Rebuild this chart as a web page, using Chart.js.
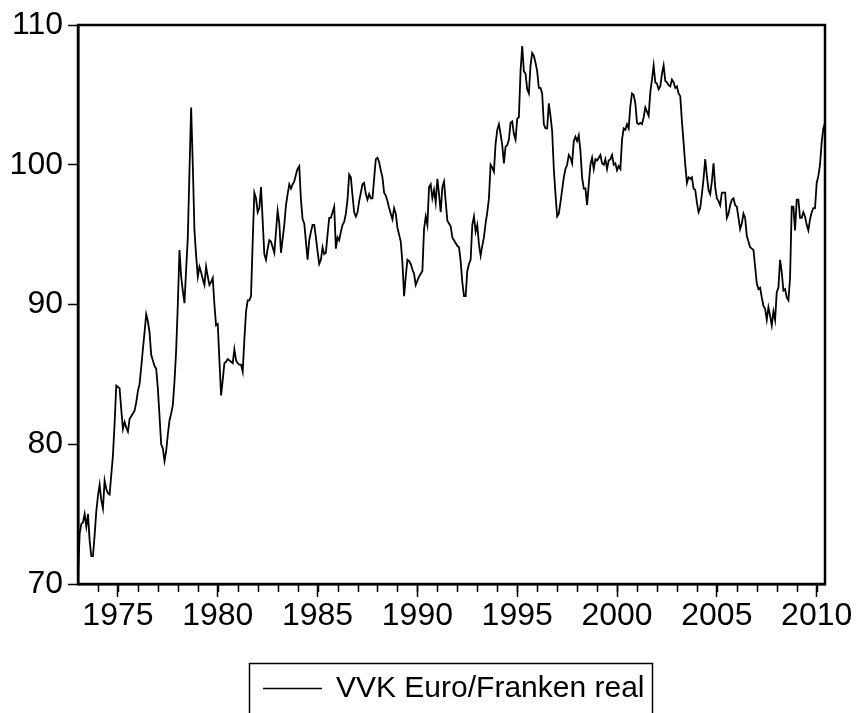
<!DOCTYPE html>
<html>
<head>
<meta charset="utf-8">
<script src="https://cdn.jsdelivr.net/npm/chart.js@4.4.1/dist/chart.umd.min.js"></script>
<style>
    html, body { margin: 0; padding: 0; background: #fff; overflow: hidden; }
    #wrap { width: 858px; height: 713px; position: relative; }
</style>
</head>
<body>
<div id="wrap"><canvas id="rate-chart" width="858" height="713"></canvas></div>
<script>
// monthly values, 1973M01 - 2010M06
const start_year = 1973;
const series_label = "VVK Euro/Franken real";
const real_rate = [
    70.6, 73.6, 74.3, 74.4, 75.0, 74.1, 75.0, 73.1, 72.0, 72.0, 73.5, 75.2,   // 1973
    76.3, 77.1, 76.0, 75.4, 77.4, 76.8, 76.5, 76.4, 77.8, 79.2, 81.5, 84.2,   // 1974
    84.1, 84.0, 82.5, 81.1, 81.6, 81.2, 80.9, 81.8, 82.0, 82.2, 82.4, 83.0,   // 1975
    83.8, 84.3, 85.5, 86.8, 88.0, 89.3, 88.8, 88.0, 86.4, 86.0, 85.6, 85.4,   // 1976
    84.0, 82.0, 80.0, 79.7, 78.8, 79.5, 80.7, 81.7, 82.2, 82.8, 84.5, 86.7,   // 1977
    90.0, 93.9, 92.0, 91.0, 90.1, 92.5, 94.8, 99.5, 104.1, 100.0, 95.3, 93.5, // 1978
    92.0, 92.7, 92.3, 91.8, 91.4, 92.7, 92.0, 91.4, 91.6, 91.9, 90.0, 88.5,   // 1979
    88.6, 86.0, 83.5, 84.6, 85.8, 85.9, 86.1, 86.0, 85.9, 85.8, 86.8, 86.0,   // 1980
    85.8, 85.7, 85.7, 85.2, 87.5, 89.5, 90.3, 90.3, 90.6, 94.5, 98.0, 97.6,   // 1981
    96.6, 96.9, 98.4, 96.0, 93.6, 93.2, 94.0, 94.6, 94.5, 94.1, 93.7, 95.2,   // 1982
    96.7, 95.8, 93.7, 94.7, 95.7, 97.1, 97.9, 98.6, 98.3, 98.6, 98.8, 99.3,   // 1983
    99.7, 99.9, 97.5, 96.1, 95.8, 94.5, 93.2, 94.6, 95.2, 95.7, 95.7, 94.8,   // 1984
    93.8, 92.9, 93.2, 94.1, 93.6, 93.7, 95.0, 96.2, 96.2, 96.6, 97.0, 94.0,   // 1985
    94.8, 94.6, 95.2, 95.7, 95.9, 96.5, 97.5, 99.3, 99.1, 97.8, 96.6, 96.3,   // 1986
    96.6, 97.4, 98.0, 98.6, 98.7, 97.9, 97.5, 97.9, 97.6, 97.6, 99.0, 100.4,  // 1987
    100.5, 100.2, 99.6, 99.1, 98.0, 97.8, 97.4, 96.9, 96.5, 96.1, 96.9, 96.5, // 1988
    95.5, 95.0, 94.5, 93.0, 90.6, 92.0, 93.2, 93.1, 92.9, 92.5, 92.2, 91.4,   // 1989
    91.7, 92.0, 92.2, 92.4, 95.4, 96.3, 95.7, 98.4, 98.6, 97.6, 98.2, 97.3,   // 1990
    99.0, 97.9, 96.6, 98.4, 98.8, 97.4, 96.0, 95.8, 95.6, 94.8, 94.6, 94.4,   // 1991
    94.2, 94.1, 93.1, 91.6, 90.6, 90.6, 92.4, 92.9, 93.2, 95.7, 96.3, 95.2,   // 1992
    95.7, 94.3, 93.5, 94.2, 94.8, 95.8, 96.6, 97.6, 100.0, 99.8, 99.5, 101.5, // 1993
    102.5, 102.9, 102.2, 101.4, 100.1, 101.3, 101.4, 101.8, 103.0, 103.1, 102.2, 101.8, // 1994
    103.3, 103.4, 106.7, 108.5, 106.7, 106.5, 105.4, 105.1, 107.1, 108.0, 107.8, 107.3, // 1995
    106.7, 105.5, 105.5, 105.1, 102.9, 102.6, 102.6, 104.4, 103.5, 102.4, 99.7, 97.9,   // 1996
    96.3, 96.5, 97.3, 98.2, 99.1, 99.7, 100.0, 100.7, 100.5, 100.1, 101.7, 102.0,       // 1997
    101.7, 102.1, 101.0, 99.1, 98.3, 98.3, 97.1, 98.6, 100.0, 100.5, 99.7, 100.4,       // 1998
    100.3, 100.5, 100.7, 100.1, 100.0, 100.4, 99.7, 100.3, 100.4, 100.7, 100.0, 100.1,  // 1999
    99.6, 99.9, 99.7, 101.8, 102.6, 102.5, 102.9, 102.6, 104.2, 105.1, 105.0, 104.4,    // 2000
    103.0, 102.9, 103.0, 102.9, 103.4, 104.1, 103.8, 103.5, 105.2, 106.1, 107.1, 105.9, // 2001
    105.8, 105.4, 105.6, 106.5, 107.1, 106.0, 105.9, 105.7, 105.6, 106.1, 105.9, 105.5, // 2002
    105.6, 105.1, 104.9, 103.1, 101.6, 100.0, 98.7, 99.1, 99.0, 99.1, 98.3, 98.2,       // 2003
    97.3, 96.6, 96.9, 97.9, 99.0, 100.4, 99.2, 98.2, 97.9, 98.8, 100.1, 98.4,   // 2004
    97.6, 97.4, 97.1, 98.0, 98.0, 98.0, 96.2, 96.5, 97.1, 97.5, 97.6, 97.1,     // 2005
    97.0, 96.2, 95.4, 95.8, 96.5, 96.2, 94.9, 94.5, 94.1, 94.0, 93.9, 92.7,     // 2006
    91.5, 91.1, 91.2, 90.5, 89.9, 89.7, 88.9, 89.8, 89.2, 88.5, 89.5, 88.9,     // 2007
    90.9, 91.2, 93.2, 92.3, 91.0, 91.1, 90.5, 90.3, 91.9, 97.0, 97.0, 95.3,     // 2008
    97.5, 97.5, 96.2, 96.2, 96.6, 96.3, 95.7, 95.3, 96.1, 96.6, 96.9, 96.9,     // 2009
    98.7, 99.2, 100.0, 101.6, 102.6, 103.0                                      // 2010
];
const year_ticks = [1975, 1980, 1985, 1990, 1995, 2000, 2005, 2010];
const minor_years = [1974, 1975, 1976, 1977, 1978, 1979, 1980, 1981, 1982, 1983, 1984, 1985,
    1986, 1987, 1988, 1989, 1990, 1991, 1992, 1993, 1994, 1995, 1996, 1997, 1998, 1999, 2000,
    2001, 2002, 2003, 2004, 2005, 2006, 2007, 2008, 2009, 2010];
const value_ticks = [70, 80, 90, 100, 110];

const font_name = "'Liberation Sans', Arial, sans-serif";
const points = real_rate.map((v, i) => ({ x: start_year + i / 12, y: v }));

// frame, yearly minor ticks and the boxed legend below the plot
const eviews_extras = {
    id: "eviews_extras",
    afterDraw(chart) {
        const ctx = chart.ctx;
        const area = chart.chartArea;
        const x_scale = chart.scales.x;
        ctx.save();
        ctx.strokeStyle = "#000";
        ctx.lineWidth = 1.5;
        for (let yr of minor_years) {
            let px = Math.round(x_scale.getPixelForValue(yr)) + 0.5;
            ctx.beginPath();
            ctx.moveTo(px, area.bottom);
            ctx.lineTo(px, area.bottom + 8);
            ctx.stroke();
        }
        ctx.lineWidth = 2.5;
        ctx.strokeRect(area.left, area.top, area.right - area.left, area.bottom - area.top);

        // legend
        ctx.lineWidth = 1.5;
        ctx.strokeRect(249.5, 663.5, 403, 80);
        ctx.beginPath();
        ctx.moveTo(263, 688.5);
        ctx.lineTo(322, 688.5);
        ctx.stroke();
        ctx.fillStyle = "#000";
        ctx.font = "30px " + font_name;
        ctx.textBaseline = "middle";
        ctx.fillText(series_label, 336, 689);
        ctx.restore();
    }
};

const ctx = document.getElementById("rate-chart").getContext("2d");
const rate_chart = new Chart(ctx, {
    type: "line",
    data: {
        datasets: [{
            label: series_label,
            data: points,
            borderColor: "#000",
            borderWidth: 1.8,
            pointRadius: 0,
            tension: 0,
            fill: false
        }]
    },
    options: {
        responsive: false,
        animation: false,
        events: [],
        layout: { padding: { top: 25, right: 33, left: 0, bottom: 0 } },
        plugins: {
            legend: { display: false },
            tooltip: { enabled: false }
        },
        scales: {
            x: {
                type: "linear",
                min: start_year,
                max: start_year + (real_rate.length - 1) / 12,
                afterBuildTicks: (scale) => { scale.ticks = year_ticks.map((v) => ({ value: v })); },
                afterFit: (scale) => { scale.height = 129; },
                grid: { drawOnChartArea: false, tickLength: 13, tickWidth: 1.5, tickColor: "#000" },
                border: { display: true, color: "#000", width: 2.5 },
                ticks: {
                    color: "#000",
                    font: { family: font_name, size: 32 },
                    padding: 0,
                    maxRotation: 0,
                    autoSkip: false,
                    callback: (v) => String(v)
                }
            },
            y: {
                min: 70,
                max: 110,
                afterBuildTicks: (scale) => { scale.ticks = value_ticks.map((v) => ({ value: v })); },
                afterFit: (scale) => { scale.width = 78; },
                grid: { drawOnChartArea: false, tickLength: 10, tickWidth: 1.5, tickColor: "#000" },
                border: { display: true, color: "#000", width: 2.5 },
                ticks: {
                    color: "#000",
                    font: { family: font_name, size: 32 },
                    padding: 5,
                    callback: (v) => String(v)
                }
            }
        }
    },
    plugins: [eviews_extras]
});
</script>
</body>
</html>
